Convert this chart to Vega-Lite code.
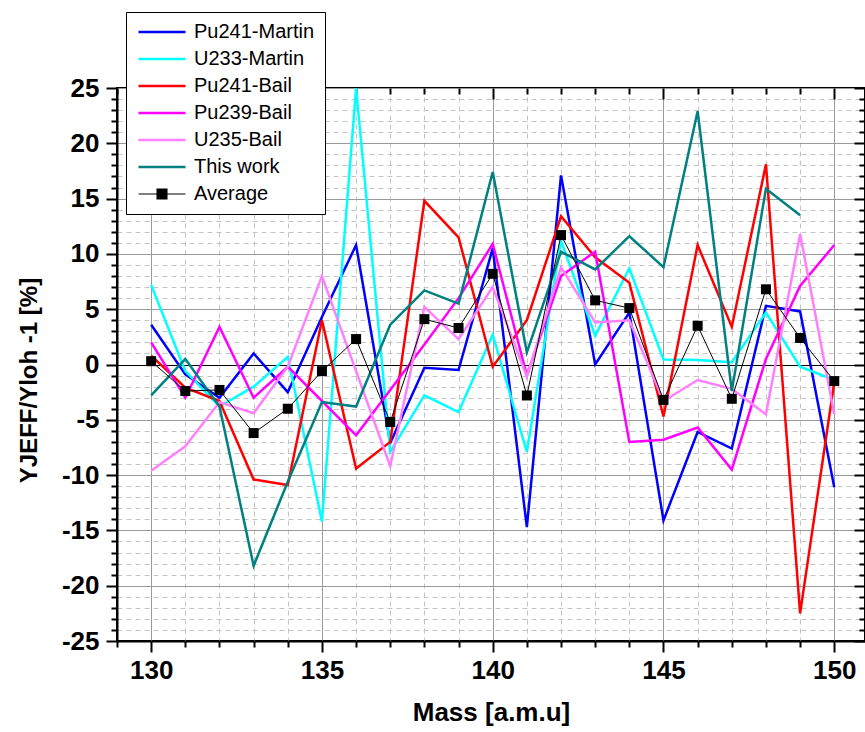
{
  "$schema": "https://vega.github.io/schema/vega-lite/v6.json",
  "width": 748,
  "height": 553,
  "autosize": {"type": "none"},
  "padding": {"left": 117, "top": 88, "right": 0, "bottom": 91},
  "background": "white",
  "config": {
    "view": {"stroke": "black", "strokeWidth": 2},
    "font": "Liberation Sans"
  },
  "data": {
    "values": [
      {"series": "Pu241-Martin", "mass": 130, "value": 3.6},
      {"series": "Pu241-Martin", "mass": 131, "value": -0.9},
      {"series": "Pu241-Martin", "mass": 132, "value": -3.0},
      {"series": "Pu241-Martin", "mass": 133, "value": 1.0},
      {"series": "Pu241-Martin", "mass": 134, "value": -2.5},
      {"series": "Pu241-Martin", "mass": 135, "value": 4.3},
      {"series": "Pu241-Martin", "mass": 136, "value": 10.8},
      {"series": "Pu241-Martin", "mass": 137, "value": -7.1},
      {"series": "Pu241-Martin", "mass": 138, "value": -0.3},
      {"series": "Pu241-Martin", "mass": 139, "value": -0.5},
      {"series": "Pu241-Martin", "mass": 140, "value": 10.5},
      {"series": "Pu241-Martin", "mass": 141, "value": -14.7},
      {"series": "Pu241-Martin", "mass": 142, "value": 17.1},
      {"series": "Pu241-Martin", "mass": 143, "value": 0.0},
      {"series": "Pu241-Martin", "mass": 144, "value": 4.7},
      {"series": "Pu241-Martin", "mass": 145, "value": -14.1},
      {"series": "Pu241-Martin", "mass": 146, "value": -6.1},
      {"series": "Pu241-Martin", "mass": 147, "value": -7.6},
      {"series": "Pu241-Martin", "mass": 148, "value": 5.3},
      {"series": "Pu241-Martin", "mass": 149, "value": 4.8},
      {"series": "Pu241-Martin", "mass": 150, "value": -11.1},

      {"series": "U233-Martin", "mass": 130, "value": 7.2},
      {"series": "U233-Martin", "mass": 131, "value": -0.6},
      {"series": "U233-Martin", "mass": 132, "value": -3.8},
      {"series": "U233-Martin", "mass": 133, "value": -2.0},
      {"series": "U233-Martin", "mass": 134, "value": 0.7},
      {"series": "U233-Martin", "mass": 135, "value": -14.2},
      {"series": "U233-Martin", "mass": 136, "value": 25.0},
      {"series": "U233-Martin", "mass": 137, "value": -7.9},
      {"series": "U233-Martin", "mass": 138, "value": -2.8},
      {"series": "U233-Martin", "mass": 139, "value": -4.3},
      {"series": "U233-Martin", "mass": 140, "value": 2.7},
      {"series": "U233-Martin", "mass": 141, "value": -7.9},
      {"series": "U233-Martin", "mass": 142, "value": 11.2},
      {"series": "U233-Martin", "mass": 143, "value": 2.6},
      {"series": "U233-Martin", "mass": 144, "value": 8.7},
      {"series": "U233-Martin", "mass": 145, "value": 0.45},
      {"series": "U233-Martin", "mass": 146, "value": 0.4},
      {"series": "U233-Martin", "mass": 147, "value": 0.2},
      {"series": "U233-Martin", "mass": 148, "value": 4.7},
      {"series": "U233-Martin", "mass": 149, "value": -0.2},
      {"series": "U233-Martin", "mass": 150, "value": -1.4},

      {"series": "Pu241-Bail", "mass": 130, "value": 0.8},
      {"series": "Pu241-Bail", "mass": 131, "value": -2.1},
      {"series": "Pu241-Bail", "mass": 132, "value": -3.3},
      {"series": "Pu241-Bail", "mass": 133, "value": -10.4},
      {"series": "Pu241-Bail", "mass": 134, "value": -10.9},
      {"series": "Pu241-Bail", "mass": 135, "value": 4.0},
      {"series": "Pu241-Bail", "mass": 136, "value": -9.4},
      {"series": "Pu241-Bail", "mass": 137, "value": -7.0},
      {"series": "Pu241-Bail", "mass": 138, "value": 14.8},
      {"series": "Pu241-Bail", "mass": 139, "value": 11.5},
      {"series": "Pu241-Bail", "mass": 140, "value": -0.2},
      {"series": "Pu241-Bail", "mass": 141, "value": 4.0},
      {"series": "Pu241-Bail", "mass": 142, "value": 13.4},
      {"series": "Pu241-Bail", "mass": 143, "value": 9.7},
      {"series": "Pu241-Bail", "mass": 144, "value": 7.4},
      {"series": "Pu241-Bail", "mass": 145, "value": -4.7},
      {"series": "Pu241-Bail", "mass": 146, "value": 10.8},
      {"series": "Pu241-Bail", "mass": 147, "value": 3.4},
      {"series": "Pu241-Bail", "mass": 148, "value": 18.1},
      {"series": "Pu241-Bail", "mass": 149, "value": -22.5},
      {"series": "Pu241-Bail", "mass": 150, "value": -1.6},

      {"series": "Pu239-Bail", "mass": 130, "value": 2.0},
      {"series": "Pu239-Bail", "mass": 131, "value": -3.0},
      {"series": "Pu239-Bail", "mass": 132, "value": 3.4},
      {"series": "Pu239-Bail", "mass": 133, "value": -3.0},
      {"series": "Pu239-Bail", "mass": 134, "value": -0.2},
      {"series": "Pu239-Bail", "mass": 135, "value": -3.3},
      {"series": "Pu239-Bail", "mass": 136, "value": -6.4},
      {"series": "Pu239-Bail", "mass": 137, "value": -2.3},
      {"series": "Pu239-Bail", "mass": 138, "value": 1.8},
      {"series": "Pu239-Bail", "mass": 139, "value": 6.0},
      {"series": "Pu239-Bail", "mass": 140, "value": 10.9},
      {"series": "Pu239-Bail", "mass": 141, "value": -1.0},
      {"series": "Pu239-Bail", "mass": 142, "value": 8.0},
      {"series": "Pu239-Bail", "mass": 143, "value": 10.2},
      {"series": "Pu239-Bail", "mass": 144, "value": -7.0},
      {"series": "Pu239-Bail", "mass": 145, "value": -6.8},
      {"series": "Pu239-Bail", "mass": 146, "value": -5.7},
      {"series": "Pu239-Bail", "mass": 147, "value": -9.5},
      {"series": "Pu239-Bail", "mass": 148, "value": 0.5},
      {"series": "Pu239-Bail", "mass": 149, "value": 7.1},
      {"series": "Pu239-Bail", "mass": 150, "value": 10.8},

      {"series": "U235-Bail", "mass": 130, "value": -9.6},
      {"series": "U235-Bail", "mass": 131, "value": -7.4},
      {"series": "U235-Bail", "mass": 132, "value": -3.4},
      {"series": "U235-Bail", "mass": 133, "value": -4.4},
      {"series": "U235-Bail", "mass": 134, "value": -0.2},
      {"series": "U235-Bail", "mass": 135, "value": 8.0},
      {"series": "U235-Bail", "mass": 136, "value": -0.6},
      {"series": "U235-Bail", "mass": 137, "value": -9.2},
      {"series": "U235-Bail", "mass": 138, "value": 5.2},
      {"series": "U235-Bail", "mass": 139, "value": 2.3},
      {"series": "U235-Bail", "mass": 140, "value": 7.0},
      {"series": "U235-Bail", "mass": 141, "value": -1.1},
      {"series": "U235-Bail", "mass": 142, "value": 8.8},
      {"series": "U235-Bail", "mass": 143, "value": 3.8},
      {"series": "U235-Bail", "mass": 144, "value": 4.0},
      {"series": "U235-Bail", "mass": 145, "value": -3.3},
      {"series": "U235-Bail", "mass": 146, "value": -1.4},
      {"series": "U235-Bail", "mass": 147, "value": -2.2},
      {"series": "U235-Bail", "mass": 148, "value": -4.5},
      {"series": "U235-Bail", "mass": 149, "value": 11.8},
      {"series": "U235-Bail", "mass": 150, "value": -4.5},

      {"series": "This work", "mass": 130, "value": -2.8},
      {"series": "This work", "mass": 131, "value": 0.5},
      {"series": "This work", "mass": 132, "value": -3.8},
      {"series": "This work", "mass": 133, "value": -18.2},
      {"series": "This work", "mass": 134, "value": -10.6},
      {"series": "This work", "mass": 135, "value": -3.4},
      {"series": "This work", "mass": 136, "value": -3.8},
      {"series": "This work", "mass": 137, "value": 3.6},
      {"series": "This work", "mass": 138, "value": 6.7},
      {"series": "This work", "mass": 139, "value": 5.5},
      {"series": "This work", "mass": 140, "value": 17.4},
      {"series": "This work", "mass": 141, "value": 1.1},
      {"series": "This work", "mass": 142, "value": 10.2},
      {"series": "This work", "mass": 143, "value": 8.6},
      {"series": "This work", "mass": 144, "value": 11.6},
      {"series": "This work", "mass": 145, "value": 8.8},
      {"series": "This work", "mass": 146, "value": 22.9},
      {"series": "This work", "mass": 147, "value": -2.4},
      {"series": "This work", "mass": 148, "value": 15.9},
      {"series": "This work", "mass": 149, "value": 13.5},

      {"series": "Average", "mass": 130, "value": 0.3},
      {"series": "Average", "mass": 131, "value": -2.4},
      {"series": "Average", "mass": 132, "value": -2.3},
      {"series": "Average", "mass": 133, "value": -6.2},
      {"series": "Average", "mass": 134, "value": -4.0},
      {"series": "Average", "mass": 135, "value": -0.6},
      {"series": "Average", "mass": 136, "value": 2.3},
      {"series": "Average", "mass": 137, "value": -5.2},
      {"series": "Average", "mass": 138, "value": 4.1},
      {"series": "Average", "mass": 139, "value": 3.3},
      {"series": "Average", "mass": 140, "value": 8.2},
      {"series": "Average", "mass": 141, "value": -2.8},
      {"series": "Average", "mass": 142, "value": 11.7},
      {"series": "Average", "mass": 143, "value": 5.8},
      {"series": "Average", "mass": 144, "value": 5.1},
      {"series": "Average", "mass": 145, "value": -3.2},
      {"series": "Average", "mass": 146, "value": 3.5},
      {"series": "Average", "mass": 147, "value": -3.1},
      {"series": "Average", "mass": 148, "value": 6.8},
      {"series": "Average", "mass": 149, "value": 2.4},
      {"series": "Average", "mass": 150, "value": -1.5}
    ]
  },
  "layer": [
    {
      "transform": [{"filter": "datum.series !== 'Average'"}],
      "mark": {"type": "line", "strokeWidth": 2.5},
      "encoding": {
        "x": {
          "field": "mass", "type": "quantitative",
          "scale": {"domain": [129, 150.9], "nice": false, "zero": false},
          "axis": {
            "orient": "bottom",
            "title": "Mass [a.m.u]",
            "values": [129,130,131,132,133,134,135,136,137,138,139,140,141,142,143,144,145,146,147,148,149,150],
            "labelExpr": "datum.value % 5 === 0 ? '' + datum.value : ''",
            "labelFont": "Liberation Sans", "labelFontSize": 26, "labelFontWeight": "bold", "labelColor": "black",
            "labelPadding": 5, "labelFlush": false, "labelOverlap": false,
            "titleFont": "Liberation Sans", "titleFontSize": 26, "titleFontWeight": "bold", "titleColor": "black",
            "titlePadding": 16,
            "domainColor": "black", "domainWidth": 2,
            "tickColor": "black", "tickWidth": 2,
            "tickSize": {"condition": {"test": "datum.value % 5 === 0", "value": 11}, "value": 6},
            "grid": true,
            "gridColor": {"condition": {"test": "datum.value % 5 === 0", "value": "#9a9a9a"}, "value": "#c4c4c4"},
            "gridDash": {"condition": {"test": "datum.value % 5 === 0", "value": []}, "value": [5, 4]},
            "gridWidth": 1
          }
        },
        "y": {
          "field": "value", "type": "quantitative",
          "scale": {"domain": [-25, 25], "nice": false, "zero": false},
          "axis": {
            "orient": "left",
            "title": "YJEFF/Yloh -1 [%]",
            "titleY": 292,
            "values": [-25,-24,-23,-22,-21,-20,-19,-18,-17,-16,-15,-14,-13,-12,-11,-10,-9,-8,-7,-6,-5,-4,-3,-2,-1,0,1,2,3,4,5,6,7,8,9,10,11,12,13,14,15,16,17,18,19,20,21,22,23,24,25],
            "labelExpr": "datum.value % 5 === 0 ? '' + datum.value : ''",
            "labelFont": "Liberation Sans", "labelFontSize": 26, "labelFontWeight": "bold", "labelColor": "black",
            "labelPadding": 7, "labelFlush": false, "labelOverlap": false,
            "titleFont": "Liberation Sans", "titleFontSize": 24, "titleFontWeight": "bold", "titleColor": "black",
            "titlePadding": 20,
            "domainColor": "black", "domainWidth": 2,
            "tickColor": "black", "tickWidth": 2,
            "tickSize": {"condition": {"test": "datum.value % 5 === 0", "value": 11}, "value": 6},
            "grid": true,
            "gridColor": {"condition": [{"test": "datum.value === 0", "value": "black"}, {"test": "datum.value % 5 === 0", "value": "#9a9a9a"}], "value": "#c4c4c4"},
            "gridDash": {"condition": {"test": "datum.value % 5 === 0", "value": []}, "value": [5, 4]},
            "gridWidth": 1
          }
        },
        "color": {
          "field": "series", "type": "nominal",
          "scale": {
            "domain": ["Pu241-Martin", "U233-Martin", "Pu241-Bail", "Pu239-Bail", "U235-Bail", "This work", "Average"],
            "range": ["#0000ff", "#00ffff", "#ff0000", "#ff00ff", "#ff80ff", "#008080", "#000000"]
          },
          "legend": {
            "orient": "none",
            "legendX": 9,
            "legendY": -76,
            "title": null,
            "symbolType": {"expr": "datum.value === 'Average' ? 'M-2,0H2M-0.42,-0.42H0.42V0.42H-0.42Z' : 'M-2,0H2'"},
            "symbolFillColor": {"expr": "datum.value === 'Average' ? 'black' : 'transparent'"},
            "symbolStrokeWidth": {"expr": "datum.value === 'Average' ? 1.2 : 2.5"},
            "symbolSize": 552,
            "symbolOffset": 16,
            "labelOffset": 22,
            "labelFont": "Liberation Sans", "labelFontSize": 20, "labelColor": "black",
            "labelLimit": 300,
            "padding": 10,
            "rowPadding": 7,
            "strokeColor": "black",
            "fillColor": "white"
          }
        }
      }
    },
    {
      "transform": [{"filter": "datum.series === 'Average'"}],
      "mark": {"type": "line", "color": "black", "strokeWidth": 1},
      "encoding": {
        "x": {
          "field": "mass", "type": "quantitative",
          "axis": {
            "orient": "top", "title": null, "labels": false, "grid": false, "domain": false,
            "values": [129,130,131,132,133,134,135,136,137,138,139,140,141,142,143,144,145,146,147,148,149,150],
            "tickColor": "black", "tickWidth": 2,
            "tickSize": {"condition": {"test": "datum.value % 5 === 0", "value": -11}, "value": -6}
          }
        },
        "y": {
          "field": "value", "type": "quantitative",
          "axis": {
            "orient": "right", "title": null, "labels": false, "grid": false, "domain": false,
            "values": [-25,-24,-23,-22,-21,-20,-19,-18,-17,-16,-15,-14,-13,-12,-11,-10,-9,-8,-7,-6,-5,-4,-3,-2,-1,0,1,2,3,4,5,6,7,8,9,10,11,12,13,14,15,16,17,18,19,20,21,22,23,24,25],
            "tickColor": "black", "tickWidth": 2,
            "tickSize": {"condition": {"test": "datum.value % 5 === 0", "value": -11}, "value": -6}
          }
        }
      }
    },
    {
      "transform": [{"filter": "datum.series === 'Average'"}],
      "mark": {"type": "point", "shape": "square", "filled": true, "color": "black", "size": 100, "opacity": 1},
      "encoding": {
        "x": {"field": "mass", "type": "quantitative", "axis": null},
        "y": {"field": "value", "type": "quantitative", "axis": null}
      }
    }
  ],
  "resolve": {"axis": {"x": "independent", "y": "independent"}}
}
